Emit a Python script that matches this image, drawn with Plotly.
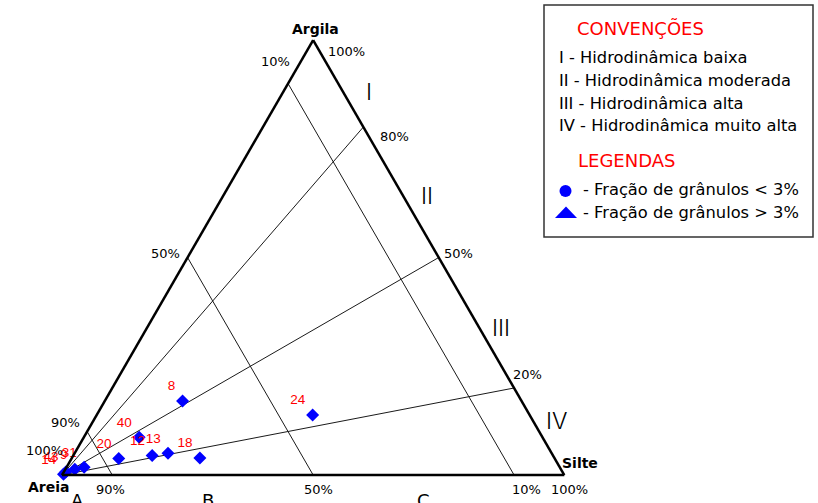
import plotly.graph_objects as go

# Sample composition (%) — sand / silt / clay
amostras = ["8", "24", "18", "13", "12", "40", "20", "31", "9", "43", "14"]
areia = [67.5, 43.2, 70.6, 76.4, 79.8, 80.3, 86.8, 94.7, 96.8, 98.9, 99.6]
silte = [15.5, 43.0, 25.5, 18.6, 15.7, 11.0, 9.4, 3.5, 1.9, 0.4, 0.2]
argila = [17.0, 13.8, 3.9, 5.0, 4.5, 8.7, 3.8, 1.8, 1.3, 0.7, 0.2]

# Pejrup diagram divisions
areia_classes = [10, 50, 90]      # lines of constant sand content (%)
argila_na_lama = [80, 50, 20]     # clay share of the mud fraction (%)

convencoes = [
    "I - Hidrodinâmica baixa",
    "II - Hidrodinâmica moderada",
    "III - Hidrodinâmica alta",
    "IV - Hidrodinâmica muito alta",
]
legendas = ["- Fração de grânulos < 3%", "- Fração de grânulos > 3%"]

W, H = 818, 503
TOP_Y, BASE_Y, LEFT_X = 40, 475, 62
SANS = "DejaVu Sans"
ARIAL = "Liberation Sans, Arial"


def px(x, y):
    """Pixel position -> paper coordinates."""
    return x / W, 1 - y / H


fig = go.Figure()

line_style = dict(color="#1a1a1a", width=1)
for s in areia_classes:
    fig.add_trace(go.Scatterternary(
        a=[100 - s, 0], b=[s, s], c=[0, 100 - s],
        mode="lines", line=line_style, hoverinfo="skip", showlegend=False,
        cliponaxis=False))
for r in argila_na_lama:
    fig.add_trace(go.Scatterternary(
        a=[0, r], b=[100, 0], c=[0, 100 - r],
        mode="lines", line=line_style, hoverinfo="skip", showlegend=False,
        cliponaxis=False))

fig.add_trace(go.Scatterternary(
    a=argila, b=areia, c=silte, text=amostras,
    mode="markers+text", textposition="top left",
    textfont=dict(family=ARIAL, size=13.5, color="#ff0000"),
    marker=dict(symbol="diamond", size=10, color="#0000ff",
                line=dict(width=0)),
    showlegend=False, cliponaxis=False))

# triangle placement
tri_h = BASE_Y - TOP_Y
tri_w = tri_h * 2 / 3 ** 0.5
cx = (LEFT_X + tri_w / 2) / W
cy = 1 - (TOP_Y + tri_h / 2) / H
half_y = tri_h / H / 2

axis = dict(showline=True, linecolor="black", linewidth=2.5, showgrid=False,
            showticklabels=False, ticks="", title=dict(text=""))

annotations = []


def nota(texto, x, y, size=13, color="black", family=SANS, anchor="center",
         bold=False, weight=None):
    xx, yy = px(x, y)
    font = dict(family=family, size=size, color=color)
    if weight is not None:
        font["weight"] = weight
    annotations.append(dict(
        text=f"<b>{texto}</b>" if bold else texto,
        x=xx, y=yy, xref="paper", yref="paper", xanchor=anchor,
        yanchor="middle", showarrow=False, font=font))


# vertex names
nota("Argila", 315, 29, size=14, bold=True)
nota("Areia", 48, 487, size=14, bold=True)
nota("Silte", 580, 463, size=14, bold=True)

# percentage marks
nota("10%", 275, 61)
nota("100%", 346, 52)
nota("80%", 394, 136)
nota("50%", 458, 253)
nota("20%", 527, 374)
nota("50%", 165, 253)
nota("90%", 65, 422)
nota("100%", 44, 450)
nota("90%", 111, 489)
nota("50%", 318, 489)
nota("10%", 526, 489)
nota("100%", 569, 489)

# textural classes along the base
for letra, x in zip(["A", "B", "C"], [77, 208, 423]):
    nota(letra, x, 500, size=18)

# hydrodynamic zones
for num, (x, y) in zip(["I", "II", "III", "IV"],
                       [(369, 92), (427, 196), (501, 328), (557, 421)]):
    nota(num, x, y, size=23, color="#000000", family="Inter", weight=300)

# key box
nota("CONVENÇÕES", 575, 28, size=18, color="#ff0000", anchor="left")
for i, t in enumerate(convencoes):
    nota(t, 557, 57 + 23 * i, size=16.3, anchor="left")
nota("LEGENDAS", 576, 160, size=18, color="#ff0000", anchor="left")
nota(legendas[0], 581, 190, size=16.3, anchor="left")
nota(legendas[1], 581, 212, size=16.3, anchor="left")

shapes = []
x0, y1 = px(544, 5)
x1, y0 = px(813, 237)
shapes.append(dict(type="rect", xref="paper", yref="paper",
                   x0=x0, y0=y0, x1=x1, y1=y1,
                   line=dict(color="#333333", width=1.5)))
cx0, cy1 = px(559.5, 185)
cx1, cy0 = px(571.5, 197)
shapes.append(dict(type="circle", xref="paper", yref="paper",
                   x0=cx0, y0=cy0, x1=cx1, y1=cy1,
                   fillcolor="#0000ff", line=dict(width=0)))
p1 = px(555, 218)
p2 = px(577, 218)
p3 = px(566, 206.5)
shapes.append(dict(type="path", xref="paper", yref="paper",
                   path=f"M {p1[0]},{p1[1]} L {p2[0]},{p2[1]} L {p3[0]},{p3[1]} Z",
                   fillcolor="#0000ff", line=dict(width=0)))

fig.update_layout(
    width=W, height=H,
    margin=dict(l=0, r=0, t=0, b=0),
    paper_bgcolor="white",
    showlegend=False,
    ternary=dict(
        sum=100,
        bgcolor="white",
        domain=dict(x=[cx - 0.36, cx + 0.36], y=[cy - half_y, cy + half_y]),
        aaxis=axis, baxis=axis, caxis=axis,
    ),
    annotations=annotations,
    shapes=shapes,
)

fig.write_html("out.html", config={"displayModeBar": False})
